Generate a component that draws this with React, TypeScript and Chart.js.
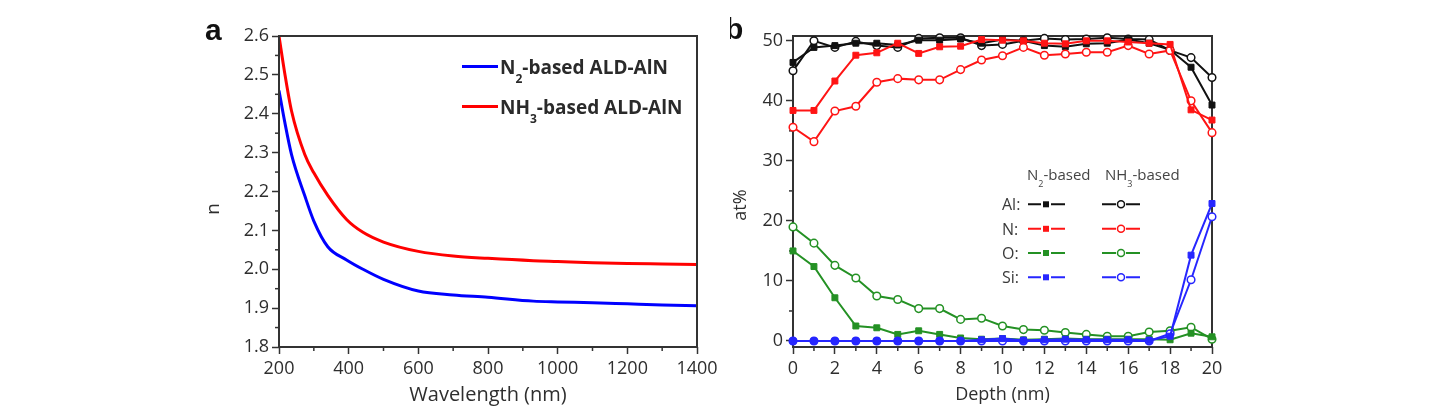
import React, { useEffect, useRef } from 'react';
import { Chart, registerables } from 'chart.js';

Chart.register(...registerables);

// ---------- Panel a data ----------
const wavelengths = [200, 216, 236, 274, 300, 340, 394, 441, 500, 600, 700, 800, 930, 1000, 1100, 1200, 1300, 1400];
const nN2 = [2.46, 2.381, 2.295, 2.189, 2.124, 2.058, 2.024, 2.0, 1.974, 1.944, 1.934, 1.928, 1.918, 1.916, 1.914, 1.911, 1.908, 1.906];
const nNH3 = [2.6, 2.507, 2.407, 2.295, 2.248, 2.19, 2.128, 2.095, 2.07, 2.046, 2.034, 2.028, 2.022, 2.02, 2.017, 2.015, 2.0135, 2.012];
const waveTicks = [200, 400, 600, 800, 1000, 1200, 1400];
const nTicks = [1.8, 1.9, 2.0, 2.1, 2.2, 2.3, 2.4, 2.5, 2.6];
const seriesA = ['N2-based ALD-AlN', 'NH3-based ALD-AlN'];

// ---------- Panel b data ----------
const depth = [0, 1, 2, 3, 4, 5, 6, 7, 8, 9, 10, 11, 12, 13, 14, 15, 16, 17, 18, 19, 20];
const alN2 = [46.4, 48.9, 49.2, 49.6, 49.6, 49.3, 50.1, 50.1, 50.3, 49.6, 50.2, 50.0, 49.2, 49.0, 49.5, 49.6, 50.2, 49.6, 48.5, 45.6, 39.3];
const alNH3 = [45.0, 50.0, 48.9, 49.9, 49.2, 48.9, 50.4, 50.5, 50.5, 49.2, 49.4, 50.0, 50.4, 50.2, 50.3, 50.5, 50.3, 50.2, 48.4, 47.2, 43.9];
const nitN2 = [38.4, 38.4, 43.3, 47.6, 48.0, 49.6, 47.9, 49.0, 49.1, 50.2, 50.1, 50.0, 49.6, 49.5, 50.0, 50.0, 49.8, 49.6, 49.4, 38.5, 36.8];
const nitNH3 = [35.6, 33.2, 38.3, 39.1, 43.1, 43.7, 43.5, 43.5, 45.2, 46.8, 47.5, 48.9, 47.6, 47.8, 48.1, 48.1, 49.2, 47.8, 48.4, 40.0, 34.7];
const oxN2 = [15.0, 12.4, 7.2, 2.5, 2.2, 1.1, 1.7, 1.1, 0.5, 0.3, 0.4, 0.2, 0.3, 0.4, 0.3, 0.3, 0.3, 0.3, 0.2, 1.3, 0.7];
const oxNH3 = [19.0, 16.3, 12.6, 10.5, 7.5, 6.9, 5.4, 5.4, 3.6, 3.8, 2.5, 1.9, 1.8, 1.4, 1.1, 0.8, 0.8, 1.5, 1.7, 2.3, 0.3];
const siN2 = [0, 0, 0, 0, 0, 0, 0, 0, 0, 0.2, 0.4, 0.1, 0.2, 0.3, 0.2, 0.2, 0.2, 0.1, 0.8, 14.3, 22.9];
const siNH3 = [0, 0, 0, 0, 0, 0, 0, 0, 0, 0, 0, 0, 0, 0, 0, 0, 0, 0, 1.2, 10.2, 20.7];
const depthTicks = [0, 2, 4, 6, 8, 10, 12, 14, 16, 18, 20];
const atTicks = [0, 10, 20, 30, 40, 50];
const elements = ['Al:', 'N:', 'O:', 'Si:'];

const FONT = "'Open Sans', sans-serif";
const AXIS = '#333333';
const TXT = '#2e2e2e';
const C_BLACK = '#111111';
const C_RED = '#ff1414';
const C_GREEN = '#249124';
const C_BLUE = '#2626ff';

function drawRich(ctx: CanvasRenderingContext2D, text: string, x: number, y: number, size: number, weight: string, color: string) {
  // digits after letters become subscripts (N2, NH3)
  const parts: [string, boolean][] = [];
  const m = text.match(/^([A-Z]+)(\d)(.*)$/);
  if (m) {
    parts.push([m[1], false], [m[2], true], [m[3], false]);
  } else parts.push([text, false]);
  let cx = x;
  ctx.fillStyle = color;
  ctx.textAlign = 'left';
  ctx.textBaseline = 'alphabetic';
  for (const [t, sub] of parts) {
    const fs = Math.round(sub ? size * 0.62 : size);
    ctx.font = `${weight} ${fs}px ${FONT}`;
    ctx.fillText(t, cx, sub ? y + size * 0.5 : y);
    cx += ctx.measureText(t).width;
  }
}

function drawMinorAndFrame(chart: any, ctx: CanvasRenderingContext2D) {
  const ca = chart.chartArea;
  const xs = chart.scales.x;
  const ys = chart.scales.y;
  ctx.save();
  ctx.strokeStyle = AXIS;
  ctx.lineWidth = 1.5;
  const xt = xs.ticks.map((t: any) => t.value);
  for (let i = 0; i < xt.length - 1; i++) {
    const p = xs.getPixelForValue((xt[i] + xt[i + 1]) / 2);
    ctx.beginPath();
    ctx.moveTo(p, ca.bottom);
    ctx.lineTo(p, ca.bottom + 4);
    ctx.stroke();
  }
  const yt = ys.ticks.map((t: any) => t.value);
  for (let i = 0; i < yt.length - 1; i++) {
    const p = ys.getPixelForValue((yt[i] + yt[i + 1]) / 2);
    ctx.beginPath();
    ctx.moveTo(ca.left - 4, p);
    ctx.lineTo(ca.left, p);
    ctx.stroke();
  }
  ctx.lineWidth = 2;
  ctx.strokeRect(ca.left, ca.top, ca.right - ca.left, ca.bottom - ca.top);
  ctx.restore();
}

const decorA = {
  id: 'decorA',
  afterDraw(chart: any) {
    const ctx = chart.ctx as CanvasRenderingContext2D;
    drawMinorAndFrame(chart, ctx);
    ctx.save();
    // legend
    const rows = [
      { y: 66.5, color: '#0000ff', label: seriesA[0] },
      { y: 106.5, color: '#ff0000', label: seriesA[1] },
    ];
    for (const r of rows) {
      ctx.strokeStyle = r.color;
      ctx.lineWidth = 3;
      ctx.beginPath();
      ctx.moveTo(462, r.y);
      ctx.lineTo(498, r.y);
      ctx.stroke();
      drawRich(ctx, r.label, 500, r.y + 7, 19, 'bold', '#2a2a2a');
    }
    // y title
    ctx.fillStyle = TXT;
    ctx.font = `19px ${FONT}`;
    ctx.translate(214, 209);
    ctx.rotate(-Math.PI / 2);
    ctx.textAlign = 'center';
    ctx.textBaseline = 'middle';
    ctx.fillText('n', 0, 0);
    ctx.restore();
    ctx.save();
    ctx.fillStyle = '#111';
    ctx.font = `bold 30px 'Liberation Sans', Arial, sans-serif`;
    ctx.textAlign = 'left';
    ctx.textBaseline = 'alphabetic';
    ctx.fillText('a', 205, 40);
    ctx.restore();
  },
};

const OFFB = 730;
const decorB = {
  id: 'decorB',
  beforeDatasetsDraw(chart: any) {
    drawMinorAndFrame(chart, chart.ctx);
  },
  afterDraw(chart: any) {
    const ctx = chart.ctx as CanvasRenderingContext2D;
    ctx.save();
    // legend header
    drawRich(ctx, 'N2-based', 1027 - OFFB, 179.5, 15, 'normal', '#444');
    drawRich(ctx, 'NH3-based', 1105 - OFFB, 179.5, 15, 'normal', '#444');
    const colors = [C_BLACK, C_RED, C_GREEN, C_BLUE];
    const rowsY = [204.3, 228.8, 253, 277.3];
    elements.forEach((el, i) => {
      const y = rowsY[i];
      ctx.fillStyle = '#3a3a3a';
      ctx.font = `16px ${FONT}`;
      ctx.textAlign = 'left';
      ctx.textBaseline = 'alphabetic';
      ctx.fillText(el, 1002 - OFFB, y + 5.8);
      const c = colors[i];
      ctx.strokeStyle = c;
      ctx.lineWidth = 2;
      // filled square sample
      let cx = 1046 - OFFB;
      ctx.beginPath();
      ctx.moveTo(1028 - OFFB, y);
      ctx.lineTo(cx - 5, y);
      ctx.moveTo(cx + 5, y);
      ctx.lineTo(1065 - OFFB, y);
      ctx.stroke();
      ctx.fillStyle = c;
      ctx.fillRect(cx - 3, y - 3, 6, 6);
      // open circle sample
      cx = 1121 - OFFB;
      ctx.beginPath();
      ctx.moveTo(1102 - OFFB, y);
      ctx.lineTo(cx - 5, y);
      ctx.moveTo(cx + 5, y);
      ctx.lineTo(1140 - OFFB, y);
      ctx.stroke();
      ctx.fillStyle = '#fff';
      ctx.lineWidth = 1.5;
      ctx.beginPath();
      ctx.arc(cx, y, 3.5, 0, Math.PI * 2);
      ctx.fill();
      ctx.stroke();
    });
    // y title
    ctx.fillStyle = TXT;
    ctx.font = `18px ${FONT}`;
    ctx.translate(741 - OFFB, 205);
    ctx.rotate(-Math.PI / 2);
    ctx.textAlign = 'center';
    ctx.textBaseline = 'middle';
    ctx.fillText('at%', 0, 0);
    ctx.restore();
    ctx.save();
    ctx.fillStyle = '#111';
    ctx.font = `bold 30px 'Liberation Sans', Arial, sans-serif`;
    ctx.textAlign = 'left';
    ctx.textBaseline = 'alphabetic';
    ctx.fillText('b', 725 - OFFB, 39);
    ctx.restore();
  },
};

function axisCommon(ticksArr: number[], fmt: (v: number) => string, isX: boolean, size: number) {
  return {
    type: 'linear' as const,
    afterBuildTicks: (s: any) => {
      s.ticks = ticksArr.map((v) => ({ value: v }));
    },
    afterFit: (s: any) => {
      if (isX) s.height = 61;
      else s.width = size;
    },
    ticks: {
      autoSkip: false,
      maxRotation: 0,
      padding: isX ? 4 : 3,
      color: TXT,
      font: { family: FONT, size: 18 },
      callback: (v: any) => fmt(Number(v)),
    },
    grid: {
      drawOnChartArea: false,
      drawTicks: true,
      tickLength: 7,
      tickColor: AXIS,
      tickWidth: 1.5,
    },
    border: { display: false },
  };
}

export default function App() {
  const refA = useRef<HTMLCanvasElement>(null);
  const refB = useRef<HTMLCanvasElement>(null);

  useEffect(() => {
    const chartA = new Chart(refA.current!, {
      type: 'scatter',
      data: {
        datasets: [
          {
            label: seriesA[0],
            data: wavelengths.map((w, i) => ({ x: w, y: nN2[i] })),
            showLine: true,
            borderColor: '#0000ff',
            borderWidth: 3,
            pointRadius: 0,
            cubicInterpolationMode: 'monotone',
          },
          {
            label: seriesA[1],
            data: wavelengths.map((w, i) => ({ x: w, y: nNH3[i] })),
            showLine: true,
            borderColor: '#ff0000',
            borderWidth: 3,
            pointRadius: 0,
            cubicInterpolationMode: 'monotone',
          },
        ],
      },
      options: {
        responsive: false,
        animation: false,
        devicePixelRatio: 1,
        layout: { padding: { left: 0, top: 36, right: 33, bottom: 0 } },
        plugins: { legend: { display: false }, tooltip: { enabled: false } },
        scales: {
          x: {
            ...axisCommon(waveTicks, (v) => String(v), true, 0),
            min: 200,
            max: 1400,
            title: {
              display: true,
              text: 'Wavelength (nm)',
              color: TXT,
              font: { family: FONT, size: 20 },
              padding: { top: 0, bottom: 1 },
            },
          },
          y: {
            ...axisCommon(nTicks, (v) => v.toFixed(1), false, 279),
            min: 1.8,
            max: 2.6,
          },
        },
      } as any,
      plugins: [decorA],
    });

    const mk = (label: string, ys: number[], color: string, filled: boolean) => ({
      label,
      data: depth.map((d, i) => ({ x: d, y: ys[i] })),
      showLine: true,
      borderColor: color,
      borderWidth: 2,
      pointStyle: filled ? 'rect' : 'circle',
      pointRadius: filled ? 4.2 : 3.8,
      pointBackgroundColor: filled ? color : '#ffffff',
      pointBorderColor: color,
      pointBorderWidth: filled ? 1 : 1.5,
      clip: false,
    });

    const chartB = new Chart(refB.current!, {
      type: 'scatter',
      data: {
        datasets: [
          mk('Si N2-based', siN2, C_BLUE, true),
          mk('Si NH3-based', siNH3, C_BLUE, false),
          mk('N N2-based', nitN2, C_RED, true),
          mk('N NH3-based', nitNH3, C_RED, false),
          mk('Al N2-based', alN2, C_BLACK, true),
          mk('Al NH3-based', alNH3, C_BLACK, false),
          mk('O N2-based', oxN2, C_GREEN, true),
          mk('O NH3-based', oxNH3, C_GREEN, false),
        ] as any,
      },
      options: {
        responsive: false,
        animation: false,
        devicePixelRatio: 1,
        layout: { padding: { left: 0, top: 36, right: 226, bottom: 0 } },
        plugins: { legend: { display: false }, tooltip: { enabled: false } },
        scales: {
          x: {
            ...axisCommon(depthTicks, (v) => String(v), true, 0),
            min: 0,
            max: 20,
            title: {
              display: true,
              text: 'Depth (nm)',
              color: TXT,
              font: { family: FONT, size: 18 },
              padding: { top: 0, bottom: 2 },
            },
          },
          y: {
            ...axisCommon(atTicks, (v) => String(v), false, 63),
            min: -1,
            max: 50.8,
          },
        },
      } as any,
      plugins: [decorB],
    });

    return () => {
      chartA.destroy();
      chartB.destroy();
    };
  }, []);

  return (
    <div style={{ position: 'fixed', left: 0, top: 0, width: 1438, height: 408, background: '#fff', overflow: 'hidden' }}>
      <canvas ref={refA} width={730} height={408} style={{ position: 'absolute', left: 0, top: 0, width: 730, height: 408 }} />
      <canvas ref={refB} width={708} height={408} style={{ position: 'absolute', left: OFFB, top: 0, width: 708, height: 408 }} />
    </div>
  );
}
